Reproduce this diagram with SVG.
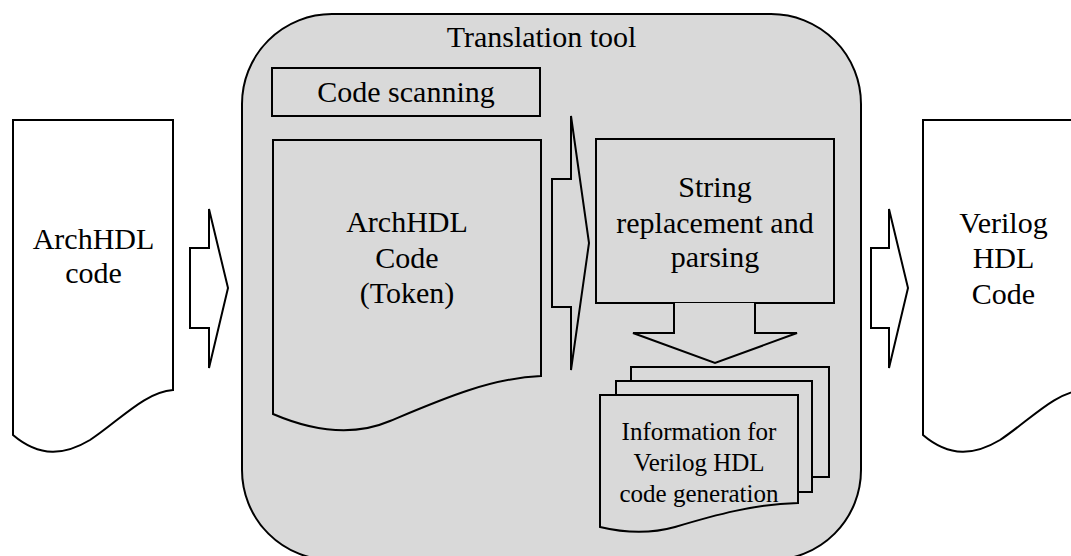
<svg xmlns="http://www.w3.org/2000/svg" width="1071" height="556" viewBox="0 0 1071 556">
  <style>
    .ln { stroke: #000; stroke-width: 2; stroke-linejoin: miter; }
    .white { fill: #fff; }
    .gray { fill: #d9d9d9; }
    .t { font-family: "Liberation Serif", "Times New Roman", serif; fill: #000; text-anchor: middle; }
    .t30 { font-size: 30px; }
    .t25 { font-size: 25px; }
  </style>
  <defs>
    <!-- document shape with a wavy bottom edge -->
    <path id="docShape" d="M13,120 H173 V390 C145,392 120,420 90,440 C65,455 40,458 13,435 Z"/>
  </defs>

  <!-- translation tool container -->
  <g id="translation-tool">
    <rect class="ln gray" x="242" y="14" width="619" height="546" rx="90" ry="90"/>
    <text class="t t30" x="541.5" y="47">Translation tool</text>
  </g>

  <!-- input document -->
  <g id="archhdl-input">
    <use href="#docShape" class="ln white"/>
    <text class="t t30" x="93.5" y="249">ArchHDL</text>
    <text class="t t30" x="93.5" y="283">code</text>
  </g>

  <!-- output document -->
  <g id="verilog-output">
    <use href="#docShape" class="ln white" transform="translate(910,0)"/>
    <text class="t t30" x="1003.5" y="233">Verilog</text>
    <text class="t t30" x="1003.5" y="268">HDL</text>
    <text class="t t30" x="1003.5" y="304">Code</text>
  </g>

  <g id="code-scanning">
    <rect class="ln gray" x="272" y="68" width="268" height="48"/>
    <text class="t t30" x="406" y="102">Code scanning</text>
  </g>

  <g id="token-code">
    <path class="ln gray" d="M273,140 H541 V376 C490,378 440,400 390,421 C355,436 315,432 273,414 Z"/>
    <text class="t t30" x="407" y="232">ArchHDL</text>
    <text class="t t30" x="407" y="268">Code</text>
    <text class="t t30" x="407" y="303">(Token)</text>
  </g>

  <g id="string-replacement">
    <rect class="ln gray" x="596" y="139" width="238" height="164"/>
    <text class="t t30" x="715" y="197">String</text>
    <text class="t t30" x="715" y="233">replacement and</text>
    <text class="t t30" x="715" y="267">parsing</text>
  </g>

  <g id="generation-info">
    <rect class="ln gray" x="631" y="367" width="198" height="110"/>
    <rect class="ln gray" x="616" y="381" width="196" height="111"/>
    <path class="ln gray" d="M600,395 H798 V503 C755,504 715,515 675,527 C650,534 625,533 600,527 Z"/>
    <text class="t t25" x="699" y="440">Information for</text>
    <text class="t t25" x="699" y="471">Verilog HDL</text>
    <text class="t t25" x="699" y="502">code generation</text>
  </g>

  <!-- block arrows between stages -->
  <g id="connectors">
    <path class="ln white" d="M190,248 H209 V209 L228,288 L209,368 V328 H190 Z"/>
    <path class="ln gray" d="M552,179 H571 V116 L589,243 L571,370 V307 H552 Z"/>
    <path class="ln gray" d="M674,303 V333 H633 L715,363 L797,333 H755 V303"/>
    <path class="ln white" d="M871,248 H889 V209 L908,288 L889,368 V328 H871 Z"/>
  </g>
</svg>
